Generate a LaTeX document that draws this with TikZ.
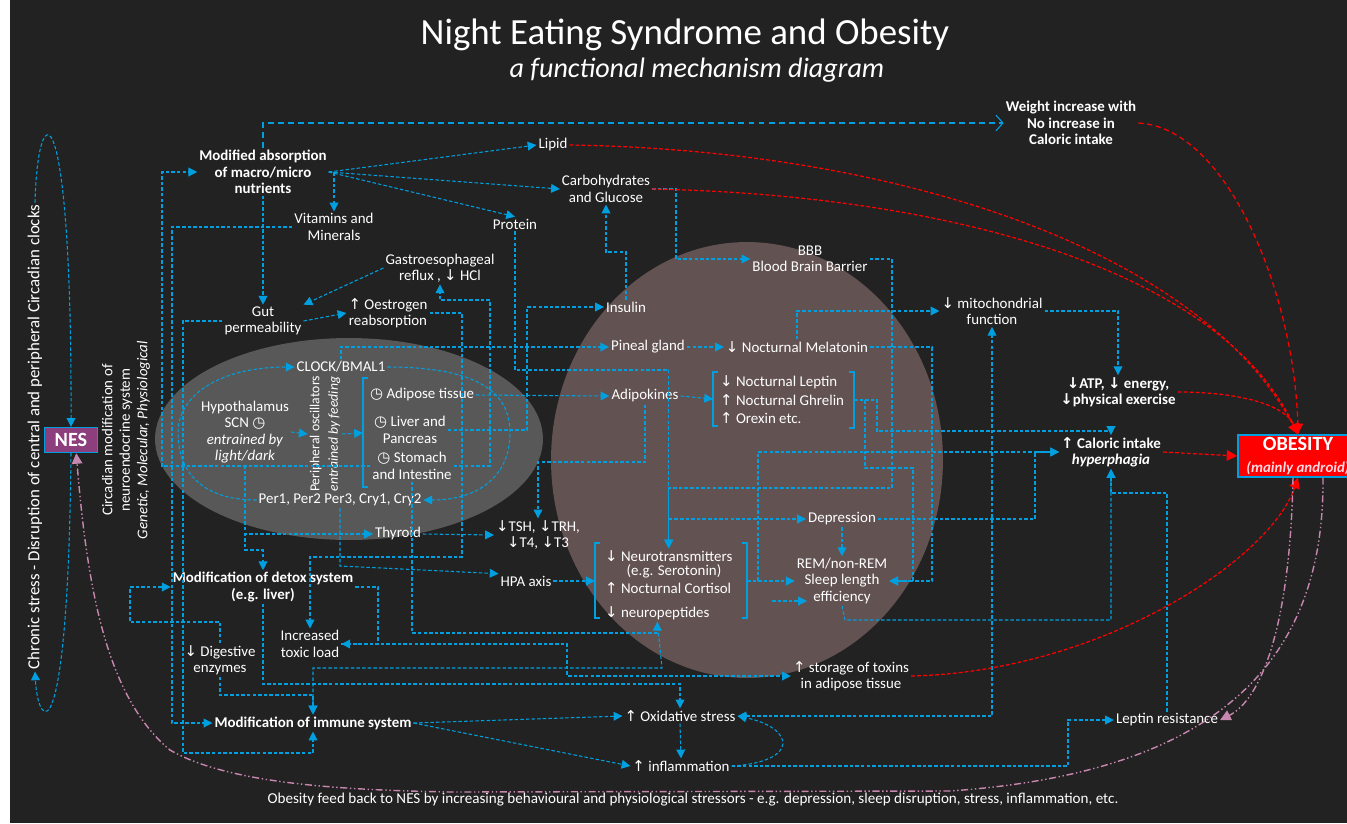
\documentclass[tikz,border=0pt]{standalone}
\usepackage{fontspec}
\setmainfont{Carlito}
\newfontfamily\dejavu{DejaVu Sans}
\usetikzlibrary{
    arrows.meta,
    positioning,
    calc
}

\definecolor{bgdark}{RGB}{34,34,34}
\definecolor{flowblue}{RGB}{0,160,224}
\definecolor{ellgray}{RGB}{88,88,88}
\definecolor{circbrown}{RGB}{98,82,81}
\definecolor{nespurple}{RGB}{140,62,125}
\definecolor{fbpink}{RGB}{200,135,175}
\definecolor{obspink}{RGB}{255,215,225}

\newcommand{\lblsize}{\fontsize{8.5}{9.3}\selectfont}
\newcommand{\arrup}{{\dejavu ↑}}
\newcommand{\arrdn}{{\dejavu ↓}}
\newcommand{\clk}{{\dejavu ◷}}

\begin{document}
\begin{tikzpicture}[x=0.02cm, y=-0.02cm,
    lbl/.style={text=white, align=center, font=\lblsize, inner sep=1pt},
    lblb/.style={lbl, font=\lblsize\bfseries},
    item/.style={lbl, anchor=west, align=left},
    flow/.style={draw=flowblue, line width=0.6pt, dash pattern=on 2pt off 1.2pt,
        -{Triangle[length=5pt,width=5pt]}},
    link/.style={flow, -},
    brace/.style={draw=flowblue, line width=0.8pt},
    redflow/.style={draw=red, line width=0.7pt, dash pattern=on 2.2pt off 1.2pt,
        -{Triangle[length=6pt,width=6pt]}},
    fback/.style={draw=fbpink, line width=0.8pt,
        dash pattern=on 4pt off 1.5pt on 0.8pt off 1.5pt on 0.8pt off 1.5pt,
        -{Triangle[length=6pt,width=6pt]}}
]
\useasboundingbox (0,0) rectangle (1347,823);

% Background
\fill[white] (0,0) rectangle (1347,823);
\fill[bgdark] (10,0) rectangle (1347,823);

% Circadian ellipse and brain circle
\fill[ellgray] (349,439) ellipse [x radius=3.88cm, y radius=2.02cm];
\fill[circbrown] (747,460) ellipse [x radius=3.92cm, y radius=4.36cm];

% Titles
\node[text=white, font=\fontsize{21}{24}\selectfont] (title) at (685,35) {Night Eating Syndrome and Obesity};
\node[text=white, font=\fontsize{16}{19}\selectfont\itshape] (subtitle) at (697,70) {a functional mechanism diagram};

% Absorption and nutrients
\node[lblb] (modabs) at (263,172) {Modified absorption\\of macro/micro\\nutrients};
\node[lbl] (lipid) at (553,145) {Lipid};
\node[lbl] (carbs) at (606,189) {Carbohydrates\\and Glucose};
\node[lbl] (protein) at (515,224) {Protein};
\node[lbl] (vitamins) at (334,227) {Vitamins and\\Minerals};
\node[lblb] (weight) at (1071,123) {Weight increase with\\No increase in\\Caloric intake};
\node[lbl] (gerd) at (440,268) {Gastroesophageal\\reflux , \arrdn{} HCl};
\node[lbl] (gut) at (263,321) {Gut\\permeability};
\node[lbl] (oestro) at (388,313) {\arrup{} Oestrogen\\reabsorption};
\node[lbl] (bbb) at (810,259) {BBB\\Blood Brain Barrier};
\node[lbl] (insulin) at (626,307) {Insulin};
\node[lbl] (mito) at (992,311) {\arrdn{} mitochondrial\\function};
\node[lbl] (pineal) at (648,347) {Pineal gland};
\node[lbl] (melatonin) at (797,347) {\arrdn{} Nocturnal Melatonin};

% Circadian clocks
\node[lbl] (clock) at (341,367) {CLOCK/BMAL1};
\node[lbl] (hypo) at (245,432) {Hypothalamus\\SCN \clk\\\textit{entrained by}\\\textit{light/dark}};
\node[lbl, rotate=90, font=\fontsize{7.8}{10.5}\selectfont] (periph) at (325,434) {Peripheral oscillators\\\textit{entrained by feeding}};
\node[item] (adipose) at (368,395) {\clk{} Adipose tissue};
\node[lbl] (liver) at (410,430) {\clk{} Liver and\\Pancreas};
\node[lbl] (stomach) at (412,466) {\clk{} Stomach\\and Intestine};
\node[lbl] (per) at (340,500) {Per1, Per2 Per3, Cry1, Cry2};

% Hormones and brain
\node[lbl] (adipokines) at (645,396) {Adipokines};
\node[item] (leptin) at (718,382) {\arrdn{} Nocturnal Leptin};
\node[item] (ghrelin) at (718,400) {\arrup{} Nocturnal Ghrelin};
\node[item] (orexin) at (718,418) {\arrup{} Orexin etc.};
\node[lbl] (depression) at (842,519) {Depression};
\node[item] (nt) at (603,556) {\arrdn{} Neurotransmitters};
\node[lbl] (sero) at (674,571) {(e.g. Serotonin)};
\node[item] (cortisol) at (603,588) {\arrup{} Nocturnal Cortisol};
\node[item] (np) at (603,613) {\arrdn{} neuropeptides};
\node[lbl] (rem) at (842,581) {REM/non-REM\\Sleep length\\efficiency};
\node[lbl] (thyroid) at (398,534) {Thyroid};
\node[lbl] (tsh) at (538,535) {\arrdn{}TSH, \arrdn{}TRH,\\\arrdn{}T4, \arrdn{}T3};
\node[lbl] (hpa) at (526,581) {HPA axis};

% Outcomes on the right
\node[lblb] (atp) at (1118,392) {\arrdn{}ATP, \arrdn{} energy,\\\arrdn{}physical exercise};
\node[lbl] (caloric) at (1111,452) {\textbf{\arrup{} Caloric intake}\\\textbf{\textit{hyperphagia}}};
\node[draw=flowblue, line width=0.8pt, fill=red, text=white, align=center,
      minimum width=2.4cm, minimum height=0.84cm, inner sep=1pt] (obesity) at (1298,456)
      {{\fontsize{11.5}{12}\selectfont\bfseries OBESITY}\\{\fontsize{8.5}{9}\selectfont\bfseries\itshape\color{obspink}(mainly android)}};
\node[lbl] (leptinres) at (1167,720) {Leptin resistance};

% Detox and immune
\node[lblb] (detox) at (263,587) {Modification of detox system\\(e.g. liver)};
\node[lbl] (toxic) at (310,644) {Increased\\toxic load};
\node[lbl] (digest) at (220,660) {\arrdn{} Digestive\\enzymes};
\node[lbl] (storage) at (851,676) {\arrup{} storage of toxins\\in adipose tissue};
\node[lblb] (immune) at (313,723) {Modification of immune system};
\node[lbl] (oxid) at (680,716) {\arrup{} Oxidative stress};
\node[lbl] (inflam) at (681,766) {\arrup{} inflammation};
\node[lbl, font=\fontsize{8.6}{9}\selectfont] (footer) at (693,800) {Obesity feed back to NES by increasing behavioural and physiological stressors - e.g. depression, sleep disruption, stress, inflammation, etc.};

% Left side: NES and chronic stress
\node[draw=flowblue, line width=0.8pt, fill=nespurple, text=white,
      font=\fontsize{11.5}{12}\selectfont\bfseries, minimum width=1.06cm,
      minimum height=0.5cm, inner sep=1pt] (nes) at (71,440) {NES};
\node[lbl, rotate=90, font=\fontsize{9.6}{10}\selectfont] (chronic) at (35,437) {Chronic stress - Disruption of central and peripheral Circadian clocks};
\node[lbl, rotate=90, font=\fontsize{8.5}{10}\selectfont] (circmod) at (126,440) {Circadian modification of\\neuroendocrine system\\\textit{Genetic, Molecular, Physiological}};

% Brackets
\draw[brace] (368,378) -- (363,378) -- (363,487) -- (368,487);
\draw[brace] (718,372) -- (713,372) -- (713,426) -- (718,426);
\draw[brace] (849,372) -- (854,372) -- (854,428) -- (849,428);
\draw[brace] (600,543) -- (595,543) -- (595,618) -- (600,618);
\draw[brace] (742,543) -- (747,543) -- (747,618) -- (742,618);
\coordinate (orgL) at (363,433);
\coordinate (hormL) at (713,399);
\coordinate (hormR) at (854,400);
\coordinate (neuroL) at (595,581);
\coordinate (neuroR) at (747,581);
\coordinate (jneu) at (758,581);
\coordinate (effin) at (772,601);

% Chronic stress loop
\draw[flow] (chronic.east) .. controls (38,90) and (72,90) .. (nes.north);
\draw[flow] (nes.south) .. controls (68,760) and (38,730) .. (chronic.west);

% Absorption connectors
\draw[flowblue, line width=0.6pt, dash pattern=on 3.4pt off 2.3pt,
      -{Straight Barb[length=4pt,width=9pt]}] (modabs.north) |- (weight.west);
\draw[flow] (modabs.east) -- (lipid.west);
\draw[flow] (modabs.east) -- (carbs.west);
\draw[flow] (modabs.east) -- (protein.north);
\draw[flow] (modabs.east) -| (vitamins.north);
\draw[flow] (modabs.south) -- (gut.north);
\draw[flow] (gerd.west) -- (gut.north east);
\draw[flow] (gut.east) -- (oestro.west);
\draw[flow] (stomach.west) -| (162,172) -- (modabs.west);
\draw[flow] (vitamins.west) -| (172,723) -- (immune.west);
\draw[flow] (gut.west) -| (183,753) -| (immune.south);
\draw[flow] (stomach.east) -| (490,300) -| (gerd.south);
\draw[flow] (oestro.east) -| (462,557) -| (toxic.north);
\draw[flow] (liver.east) -- (527,430) |- (insulin.west);
\draw[flow] (insulin.north) -- (626,252) -| (carbs.south);
\draw[flow] (carbs.east) -- (676,189) |- (bbb.west);
\draw[flow] (bbb.east) -| (892,488) -| (nt.north);
\draw[flow] (protein.south) -- (515,370) -| (nt.north);
\draw[flow] (nt.north |- depression.west) -- (depression.west);

% Circadian clock connectors
\draw[flow] (clock.east) .. controls (490,367) and (510,400) .. (510,433)
    .. controls (510,475) and (480,500) .. (per.east);
\draw[flow] (per.west) .. controls (200,500) and (178,470) .. (178,433)
    .. controls (178,395) and (220,367) .. (clock.west);
\draw[flow] (clock.north) |- (pineal.west);
\draw[flow] (pineal.east) -- (melatonin.west);
\draw[flow] (melatonin.north) |- (mito.west);
\draw[flow] (hypo.east) -- (periph.north);
\draw[flow] (periph.south) -- (orgL);
\draw[flow] (hypo.south) |- (thyroid.west);
\draw[flow] (hypo.south) -- (245,550) -| (detox.north);
\draw[flow] (thyroid.east) -- (tsh.west);
\draw[flow] (per.south) -- (340,566) -- (hpa.north west);
\draw[flow] (hpa.east) -- (neuroL);
\draw[flow] (stomach.south) -- (412,633) -| (np.south);

% Hormone connectors
\draw[flow] (adipose.east) -- (adipokines.west);
\draw[flow] (adipokines.east) -- (hormL);
\draw[flow] (adipokines.south) -- (645,462) -| (tsh.north);
\draw[flow] (hormR) -| (877,431) -| (caloric.north);
\draw[flow] (hormR) -- (865,400) -- (865,468) -| (913,581) -- (rem.east);
\draw[flow] (melatonin.east) -| (932,581) -- (rem.east);
\draw[flow] (neuroR) -- (rem.west);
\draw[flow] (jneu) |- (caloric.west);
\draw[flow] (depression.south) -- (rem.north);
\draw[flow] (depression.east) -- (1035,519) |- (caloric.west);
\draw[flow] (rem.south) -- (845,620) -| (caloric.south);
\draw[flow] (leptinres.north) -- (1167,493) -| (caloric.south);
\draw[flow] (effin) -- ++(35,0);
\draw[flow] (mito.east) -| (atp.north);

% Detox and immune connectors
\draw[flow] (digest.north) -- (220,622) -| (130,587) -- (detox.west);
\draw[flow] (digest.south) -- (220,695) -| (immune.north);
\draw[flow] (np.south) -- (662,668) -| (immune.north);
\draw[flow] (detox.east) -- (378,587) |- (toxic.east);
\draw[flow] (toxic.east) -- (567,644) |- (storage.west);
\draw[flow] (detox.south) -- (263,684) -| (oxid.north);
\draw[flow] (immune.east) -- (oxid.west);
\draw[flow] (immune.east) -- (inflam.west);
\draw[flow] (oxid.south) -- (inflam.north);
\draw[flow] (inflam.east) .. controls (800,762) and (795,728) .. (oxid.east);
\draw[flow] (inflam.east) -- (1068,766) |- (leptinres.west);
\draw[flowblue, line width=0.6pt, dash pattern=on 2pt off 1.2pt,
      {Triangle[length=5pt,width=5pt]}-{Triangle[length=5pt,width=5pt]}] (oxid.east) -| (mito.south);

% Red paths to obesity
\draw[redflow] (lipid.east) .. controls (900,150) and (1200,250) .. (obesity.north);
\draw[redflow] (carbs.east) .. controls (950,195) and (1220,270) .. (obesity.north);
\draw[redflow, dash pattern=on 3pt off 2pt] (weight.east) .. controls (1230,128) and (1295,300) .. (obesity.north);
\draw[redflow] (atp.east) .. controls (1240,392) and (1285,405) .. (obesity.north);
\draw[redflow] (caloric.east) -- (obesity.west);
\draw[redflow] (storage.east) .. controls (1100,672) and (1270,560) .. (obesity.south);

% Feedback from obesity
\draw[fback] ([xshift=-0.1cm]obesity.south) .. controls (1290,630) and (1260,700) .. (leptinres.east);
\draw[fback] ([xshift=0.5cm]obesity.south) .. controls (1325,690) and (1180,775) .. (950,791)
    -- (450,792) .. controls (350,790) and (230,785) .. (170,750)
    .. controls (110,700) and (88,600) .. ([xshift=3pt]nes.south);

\end{tikzpicture}
\end{document}
